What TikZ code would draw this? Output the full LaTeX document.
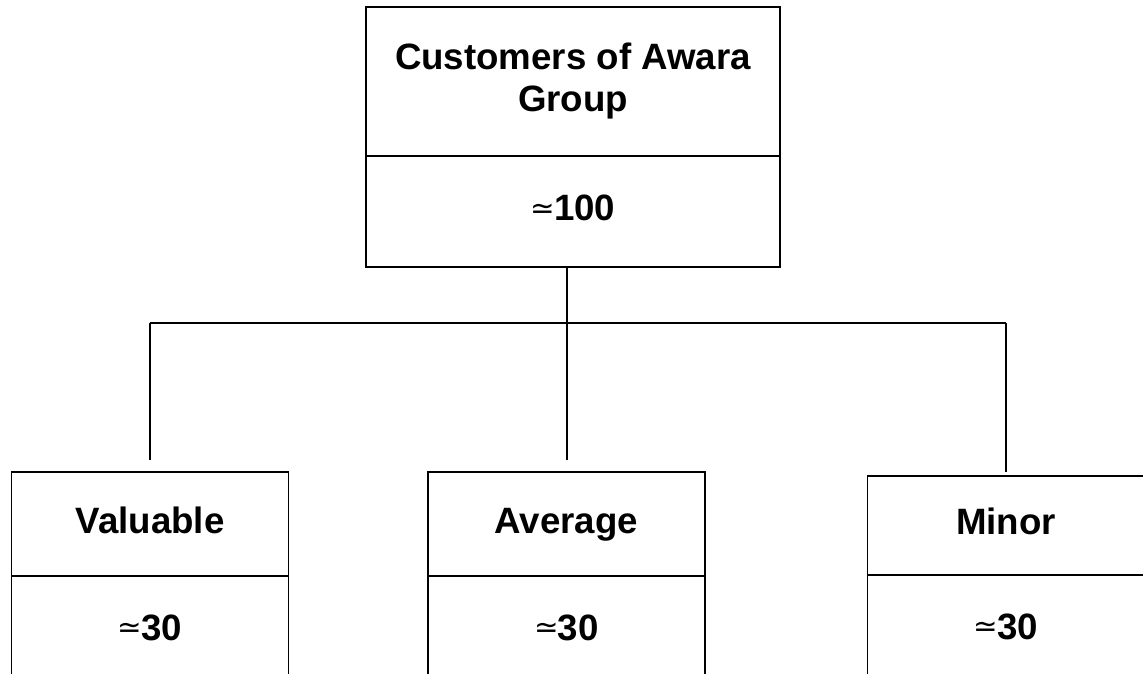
\documentclass[tikz,border=0pt]{standalone}
\usepackage{fontspec}
\setmainfont{Liberation Sans}
\newfontfamily\symfont{DejaVu Sans}
\usetikzlibrary{positioning}
\newcommand{\approxsign}{\raisebox{2pt}{\symfont\mdseries\fontsize{22}{22}\selectfont ≃}\kern-1pt}

\begin{document}
\begin{tikzpicture}[x=0.75pt, y=0.75pt,
  box/.style={draw, line width=1.2pt, inner sep=0pt, outer sep=0pt, align=center,
    text height=20pt, text depth=6pt, font=\bfseries\fontsize{27.5}{31.5}\selectfont},
  toptitle/.style={box, text height=51.5pt, minimum width=310.5pt, minimum height=111.75pt},
  topvalue/.style={box, minimum width=310.5pt, minimum height=83.25pt},
  subtitle/.style={box, minimum width=207.75pt, minimum height=78pt},
  subvalue/.style={box, minimum width=207.75pt, minimum height=82.5pt},
  link/.style={line width=1pt}]
  \clip (0,0) rectangle (1143,674);
  \node[toptitle] (top) at (573,592.5) {Customers of Awara\\Group};
  \node[topvalue, below=0pt of top] (topval) {\approxsign100};
  \node[subtitle] (valuable) at (150,150) {Valuable};
  \node[subvalue, below=0pt of valuable] (valuableval) {\approxsign30};
  \node[subtitle] (average) at (566.5,150) {Average};
  \node[subvalue, below=0pt of average] (averageval) {\approxsign30};
  \node[subtitle, minimum height=74.25pt] (minor) at (1006,148.5) {Minor};
  \node[subvalue, below=0pt of minor] (minorval) {\approxsign30};
  \coordinate (split) at (567,351);
  \draw[link] (topval.south -| split) -- (split);
  \draw[link] (split -| valuable.north) -- (split -| minor.north);
  \draw[link] (split) -- ([yshift=9pt]split |- average.north);
  \draw[link] (split -| valuable.north) -- ([yshift=9pt]valuable.north);
  \draw[link] (split -| minor.north) -- ([yshift=3pt]minor.north);
\end{tikzpicture}
\end{document}
